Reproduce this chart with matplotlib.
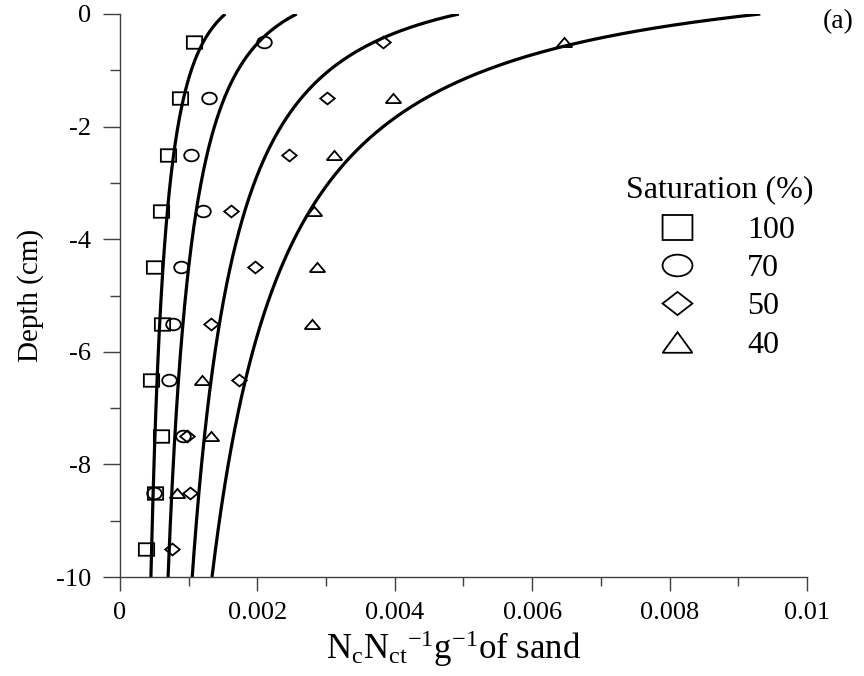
import numpy as np
import matplotlib
matplotlib.use('Agg')
import matplotlib.pyplot as plt
from matplotlib.markers import MarkerStyle
from matplotlib.transforms import Affine2D
from matplotlib.lines import Line2D
from matplotlib.ticker import MultipleLocator, FuncFormatter

plt.rcParams['font.family'] = ['Liberation Serif', 'DejaVu Serif']
plt.rcParams['mathtext.fontset'] = 'custom'
plt.rcParams['mathtext.rm'] = 'Liberation Serif'
plt.rcParams['mathtext.default'] = 'regular'
plt.rcParams['axes.unicode_minus'] = False

# measured counts at each depth (cm), one list per saturation level
depth = [-0.5, -1.5, -2.5, -3.5, -4.5, -5.5, -6.5, -7.5, -8.5, -9.5]
sat100 = [0.00108, 0.00087, 0.00070, 0.00060, 0.00049, 0.00061, 0.00045, 0.00060, 0.00051, 0.00038]
sat70 = [0.00210, 0.00130, 0.00103, 0.00121, 0.00089, 0.00077, 0.00072, 0.00092, 0.00050]
sat50 = [0.00383, 0.00301, 0.00246, 0.00162, 0.00197, 0.00132, 0.00173, 0.00098, 0.00102, 0.00076]
sat40 = [0.00646, 0.00397, 0.00311, 0.00282, 0.00287, 0.00279, 0.00119, 0.00132, 0.00083]
labels = ['100', '70', '50', '40']

# fitted curves: x = a * (depth + c) ** -b
fit_a = [0.001342, 0.00230, 0.00432, 0.00932]
fit_b = [0.46, 0.50, 0.594, 0.809]
fit_c = [0.75, 0.80, 0.80, 1.00]


def mk(base, w, h):
    # marker with its own width/height in points (markersize = 1)
    return MarkerStyle(base, transform=Affine2D().scale(w, h))


data_markers = [mk('s', 11.0, 9.0), mk('o', 10.5, 8.4), mk('D', 7.4, 6.0), mk('^', 11.2, 6.6)]
key_markers = [mk('s', 21.5, 18.0), mk('o', 21.5, 15.6), mk('D', 15.2, 11.8), mk('^', 21.5, 14.8)]
series = [sat100, sat70, sat50, sat40]

fig = plt.figure(figsize=(8.64, 6.76), dpi=100)
ax = fig.add_axes([120 / 864, 99 / 676, 687 / 864, 563 / 676])

d = np.linspace(0, 10, 400)
for a, b, c in zip(fit_a, fit_b, fit_c):
    ax.plot(a * (d + c) ** -b, -d, color='black', lw=2.3, solid_capstyle='butt')

for vals, m in zip(series, data_markers):
    ax.plot(vals, depth[:len(vals)], ls='none', marker=m, ms=1,
            mfc='none', mec='black', mew=1.3)

ax.set_xlim(0, 0.01)
ax.set_ylim(-10, 0)
for side in ['top', 'right']:
    ax.spines[side].set_visible(False)
for side in ['left', 'bottom']:
    ax.spines[side].set_color('#404040')
    ax.spines[side].set_linewidth(1.0)

ax.xaxis.set_major_locator(MultipleLocator(0.002))
ax.xaxis.set_minor_locator(MultipleLocator(0.001))
ax.yaxis.set_major_locator(MultipleLocator(2))
ax.yaxis.set_minor_locator(MultipleLocator(1))
ax.xaxis.set_major_formatter(FuncFormatter(lambda v, p: '%g' % round(v, 4)))
ax.yaxis.set_major_formatter(FuncFormatter(lambda v, p: '%g' % v))
ax.tick_params(axis='x', which='major', direction='out', length=10, width=1.0,
               color='#404040', labelsize=19, pad=8)
ax.tick_params(axis='x', which='minor', direction='out', length=6.5, width=1.0, color='#404040')
ax.tick_params(axis='y', which='major', direction='out', length=12, width=1.0,
               color='#404040', labelsize=19, pad=9)
ax.tick_params(axis='y', which='minor', direction='out', length=7, width=1.0, color='#404040')

ax.set_ylabel('Depth (cm)', fontsize=21, labelpad=8)
ax.set_xlabel(r'N$_{c}$N$_{ct}$$^{-1}$g$^{-1}$of sand', fontsize=25, labelpad=3)
ax.xaxis.label.set_x(0.485)

handles = [Line2D([], [], ls='none', marker=m, ms=1, mfc='none', mec='black', mew=1.3)
           for m in key_markers]
leg = ax.legend(handles, labels, title='Saturation (%)', frameon=False,
                fontsize=23, title_fontsize=23, loc='upper left',
                bbox_transform=fig.transFigure,
                bbox_to_anchor=(620 / 864, 1 - 169 / 676),
                handlelength=2.0, handletextpad=1.2, labelspacing=0.28,
                borderpad=0.2, borderaxespad=0)
leg._legend_box.sep = 8

fig.text(838 / 864, 1 - 22 / 676, '(a)', fontsize=20, ha='center', va='center')

fig.savefig('out.png', dpi=100)
